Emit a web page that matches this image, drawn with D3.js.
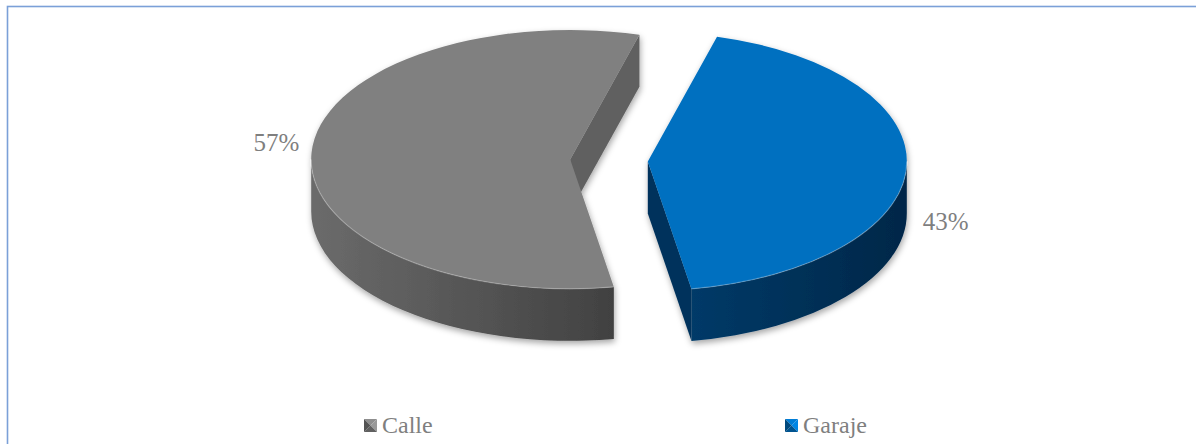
<!DOCTYPE html>
<html>
<head>
<meta charset="utf-8">
<script src="https://cdn.jsdelivr.net/npm/d3@7"></script>
<style>
  body { margin: 0; background: #fff; }
  text { font-family: "Liberation Serif", "Times New Roman", serif; }
</style>
</head>
<body>
<div id="chart"></div>
<script>
// data
var categories = ["Calle", "Garaje"];
var values = [57, 43];
var percentLabels = ["57%", "43%"];

// layout
var width = 1196, height = 444;
var cx = 609, cy = 160.4, rx = 259, ry = 129.4, depth = 52, explode = 0.15;
var startAngle = 170.3 * Math.PI / 180;
var labelRadius = 1.136;
var labelShift = [[0, -1], [4, 61]];

var topColors = ["#808080", "#0070c0"];
var wallColors = [["#6b6b6b", "#414141"], ["#003a68", "#002748"]];
var cutColors = ["#606060", "#00335c"];
var textColor = "#7f7f7f";

var svg = d3.select("#chart").append("svg")
  .attr("width", width)
  .attr("height", height);

var defs = svg.append("defs");

var shadow = defs.append("filter").attr("id", "shadow")
  .attr("x", "-10%").attr("y", "-10%").attr("width", "120%").attr("height", "130%");
shadow.append("feDropShadow")
  .attr("dx", 1).attr("dy", 3).attr("stdDeviation", 3)
  .attr("flood-color", "#000").attr("flood-opacity", 0.35);

// chart frame (cut off at right / bottom)
svg.append("rect")
  .attr("x", 7.5).attr("y", 6.5)
  .attr("width", width + 20).attr("height", height + 20)
  .attr("fill", "none")
  .attr("stroke", "#7ba0d8")
  .attr("stroke-width", 1.6);

var pie = d3.pie().sort(null)
  .startAngle(startAngle)
  .endAngle(startAngle + 2 * Math.PI);
var arcs = pie(values);

function pt(a, c, dz) {
  return [c[0] + rx * Math.sin(a), c[1] - ry * Math.cos(a) + (dz || 0)];
}

function sliceCenter(d) {
  var mid = (d.startAngle + d.endAngle) / 2;
  return [cx + explode * rx * Math.sin(mid), cy - explode * ry * Math.cos(mid)];
}

function topPath(d) {
  var c = sliceCenter(d);
  var p0 = pt(d.startAngle, c), p1 = pt(d.endAngle, c);
  var large = d.endAngle - d.startAngle > Math.PI ? 1 : 0;
  return "M" + c + "L" + p0 + "A" + rx + "," + ry + " 0 " + large + " 1 " + p1 + "Z";
}

function rimPath(s, e, c) {
  var p0 = pt(s, c), p1 = pt(e, c);
  return "M" + p0 + "A" + rx + "," + ry + " 0 0 1 " + p1;
}

// visible (front) part of outer wall
function frontRange(d) {
  var out = [];
  [0, 2 * Math.PI].forEach(function (k) {
    var s = Math.max(d.startAngle, Math.PI / 2 + k);
    var e = Math.min(d.endAngle, 3 * Math.PI / 2 + k);
    if (e > s) out.push([s, e]);
  });
  return out;
}

function wallPath(s, e, c) {
  var p0 = pt(s, c), p1 = pt(e, c), q1 = pt(e, c, depth), q0 = pt(s, c, depth);
  return "M" + p0 + "A" + rx + "," + ry + " 0 0 1 " + p1 +
    "L" + q1 + "A" + rx + "," + ry + " 0 0 0 " + q0 + "Z";
}

function cutPath(a, c) {
  var r = pt(a, c);
  return "M" + c + "L" + r + "L" + [r[0], r[1] + depth] + "L" + [c[0], c[1] + depth] + "Z";
}

var slices = svg.selectAll(".slice")
  .data(arcs)
  .enter()
  .append("g")
  .attr("class", "slice")
  .attr("filter", "url(#shadow)");

slices.each(function (d, i) {
  var g = d3.select(this);
  var c = sliceCenter(d);

  // outer walls
  frontRange(d).forEach(function (r, j) {
    var x0 = pt(r[0], c)[0], x1 = pt(r[1], c)[0];
    var id = "wall" + i + "_" + j;
    var grad = defs.append("linearGradient").attr("id", id)
      .attr("gradientUnits", "userSpaceOnUse")
      .attr("x1", Math.min(x0, x1)).attr("x2", Math.max(x0, x1))
      .attr("y1", 0).attr("y2", 0);
    grad.append("stop").attr("offset", 0).attr("stop-color", wallColors[i][0]);
    grad.append("stop").attr("offset", 1).attr("stop-color", wallColors[i][1]);
    g.append("path").attr("d", wallPath(r[0], r[1], c)).attr("fill", "url(#" + id + ")");
  });

  // cut faces that face the viewer
  if (-Math.sin(d.startAngle) > 0) {
    g.append("path").attr("d", cutPath(d.startAngle, c)).attr("fill", cutColors[i]);
  }
  if (Math.sin(d.endAngle) > 0) {
    g.append("path").attr("d", cutPath(d.endAngle, c)).attr("fill", cutColors[i]);
  }

  // top face
  g.append("path").attr("d", topPath(d)).attr("fill", topColors[i]);

  // bevel highlight along front rim
  frontRange(d).forEach(function (r) {
    g.append("path").attr("d", rimPath(r[0], r[1], c))
      .attr("fill", "none")
      .attr("stroke", "#fff")
      .attr("stroke-opacity", 0.25)
      .attr("stroke-width", 1.2);
  });
});

// percentage labels
svg.selectAll(".pct")
  .data(arcs)
  .enter()
  .append("text")
  .attr("class", "pct")
  .attr("x", function (d, i) {
    var mid = (d.startAngle + d.endAngle) / 2;
    return sliceCenter(d)[0] + labelRadius * rx * Math.sin(mid) + labelShift[i][0];
  })
  .attr("y", function (d, i) {
    var mid = (d.startAngle + d.endAngle) / 2;
    return sliceCenter(d)[1] - labelRadius * ry * Math.cos(mid) + labelShift[i][1];
  })
  .attr("text-anchor", "middle")
  .attr("font-size", 25)
  .attr("fill", textColor)
  .text(function (d, i) { return percentLabels[i]; });

// legend
var legendX = d3.scalePoint().domain(categories).range([364, 785]);
var legendY = 419, box = 13;

var items = svg.selectAll(".legend")
  .data(categories)
  .enter()
  .append("g")
  .attr("class", "legend")
  .attr("transform", function (d) { return "translate(" + legendX(d) + "," + legendY + ")"; });

items.each(function (d, i) {
  var g = d3.select(this);
  var base = d3.color(topColors[i]);
  var h = box / 2;
  var tris = [
    ["M0,0L" + box + ",0L" + h + "," + h + "Z", base.brighter(0.3)],
    ["M" + box + ",0L" + box + "," + box + "L" + h + "," + h + "Z", base.brighter(0.5)],
    ["M0," + box + "L" + box + "," + box + "L" + h + "," + h + "Z", base.darker(0.8)],
    ["M0,0L0," + box + "L" + h + "," + h + "Z", base.darker(1.2)]
  ];
  tris.forEach(function (t) {
    g.append("path").attr("d", t[0]).attr("fill", t[1]);
  });
  g.append("text")
    .attr("x", box + 5)
    .attr("y", 14)
    .attr("font-size", 24)
    .attr("fill", textColor)
    .text(d);
});
</script>
</body>
</html>
